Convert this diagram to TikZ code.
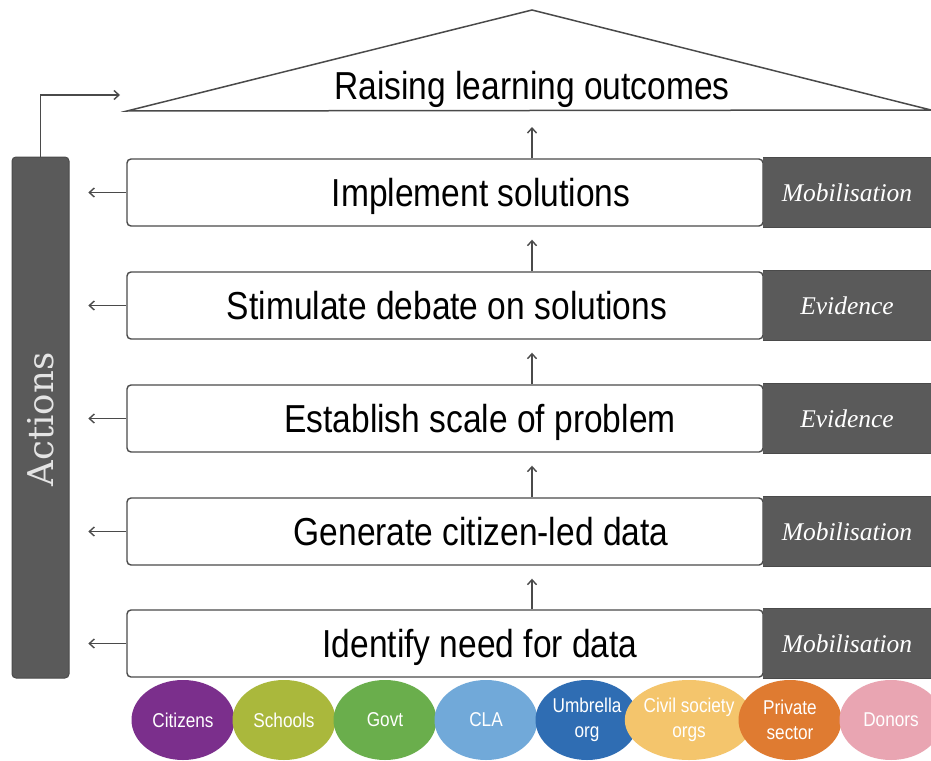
\documentclass[tikz,border=0pt]{standalone}
\usepackage{fontspec}
\usetikzlibrary{arrows.meta,shapes.geometric}
\newfontfamily\nar[FakeStretch=0.86]{Liberation Sans}
\newfontfamily\ser{Liberation Serif}
\newfontfamily\dser{DejaVu Serif}
\definecolor{dk}{HTML}{5A5A5A}
\definecolor{ln}{HTML}{4A4A4A}
\definecolor{lt}{HTML}{E4E4E4}
\definecolor{cCit}{HTML}{7B2F8C}
\definecolor{cSch}{HTML}{AAB83C}
\definecolor{cGov}{HTML}{6AAE4C}
\definecolor{cCLA}{HTML}{71A9D9}
\definecolor{cUmb}{HTML}{2F6DB3}
\definecolor{cCiv}{HTML}{F4C56C}
\definecolor{cPri}{HTML}{DF7B31}
\definecolor{cDon}{HTML}{E9A5B2}
\begin{document}
\begin{tikzpicture}[x=1pt,y=-1pt,
  wbox/.style={draw=ln, line width=1.4pt, rounded corners=4pt, fill=white,
    minimum width=636pt, minimum height=67pt, inner sep=0pt},
  tabbox/.style={fill=dk, minimum width=168pt, minimum height=69pt, inner sep=0pt,
    text=white, font=\ser\itshape\fontsize{25.5}{30}\selectfont},
  btext/.style={anchor=base, inner sep=0pt, font=\nar\fontsize{39}{47}\selectfont},
  arr/.style={draw=ln, line width=1.4pt, -{Straight Barb[length=5pt,width=9pt]}},
  ell/.style={ellipse, minimum width=103pt, minimum height=80pt, inner sep=0pt,
    text=white, align=center, font=\nar\fontsize{20}{25}\selectfont},
  barbox/.style={fill=dk, draw=ln, line width=1pt, rounded corners=4pt,
    minimum width=57pt, minimum height=521pt, inner sep=0pt}
]
\useasboundingbox (0,0) rectangle (931,760);
\fill[white] (0,0) rectangle (931,760);

% roof
\coordinate (roofL) at (127,111);
\coordinate (roofT) at (532,10);
\coordinate (roofR) at (931,110);
\coordinate (base) at (532,111);
\draw[ln, line width=1.5pt, fill=white] (roofL) -- (roofT) -- (roofR) -- cycle;
\node[btext] (goal) at (532,99) {Raising learning outcomes};

% rows
\foreach \i/\y/\tx/\lbl/\tab in {
  1/192.5/481/Implement solutions/Mobilisation,
  2/305.5/447/Stimulate debate on solutions/Evidence,
  3/418.5/480/Establish scale of problem/Evidence,
  4/531.5/481/Generate citizen-led data/Mobilisation,
  5/643.5/480/Identify need for data/Mobilisation}{
  \node[wbox] (b\i) at (445,\y) {};
  \node[tabbox] (t\i) at (847,\y) {\tab};
  \draw[ln, line width=1.2pt] (t\i.north west) -- (t\i.north east)
        (t\i.south west) -- (t\i.south east);
  \node[btext] (l\i) at (\tx,\y+14) {\lbl};
  \draw[arr] (b\i.west) -- ++(-38,0);
}

% up arrows
\draw[arr] ([xshift=87pt]b5.north) -- ([xshift=87pt,yshift=-13pt]b4.south);
\draw[arr] ([xshift=87pt]b4.north) -- ([xshift=87pt,yshift=-13pt]b3.south);
\draw[arr] ([xshift=87pt]b3.north) -- ([xshift=87pt,yshift=-13pt]b2.south);
\draw[arr] ([xshift=87pt]b2.north) -- ([xshift=87pt,yshift=-13pt]b1.south);
\draw[arr] ([xshift=87pt]b1.north) -- ([yshift=-16pt]base);

% actions bar
\node[barbox] (act) at (40.5,417.5) {};
\node[rotate=90, text=lt, inner sep=0pt, font=\dser\fontsize{35.5}{40}\selectfont] (actlbl) at (40.5,419.5) {Actions};
\coordinate (aimT) at (120,95);
\draw[arr] (act.north) |- (aimT);

% stakeholders
\foreach \n/\x/\c/\t in {
  cit/183/cCit/Citizens,
  sch/284/cSch/Schools,
  gov/385/cGov/Govt,
  cla/486/cCLA/CLA,
  umb/587/cUmb/{Umbrella\\org},
  civ/689/cCiv/{Civil society\\orgs},
  pri/790/cPri/{Private\\sector},
  don/891/cDon/Donors}{
  \node[ell, fill=\c] (\n) at (\x,720) {\t};
}
\end{tikzpicture}
\end{document}
